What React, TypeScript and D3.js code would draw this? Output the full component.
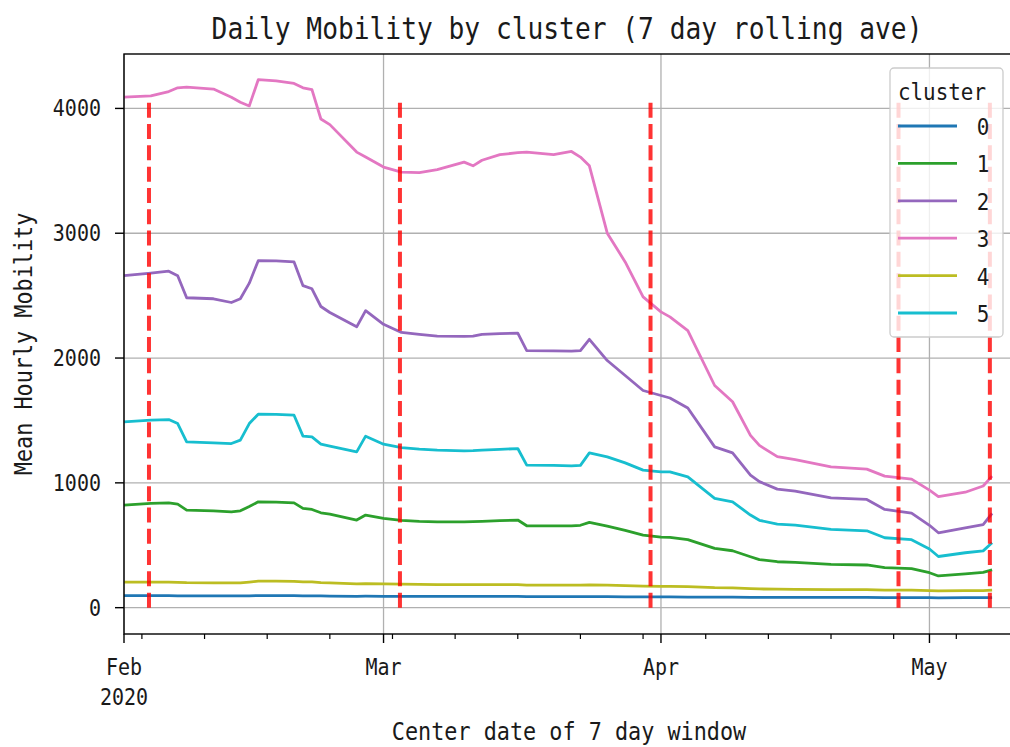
import { useEffect, useRef } from 'react';
import * as d3 from 'd3';

const dates = [
  '2020-02-01', '2020-02-04', '2020-02-06', '2020-02-07', '2020-02-08', '2020-02-11', '2020-02-13', '2020-02-14', '2020-02-15', '2020-02-16',
  '2020-02-18', '2020-02-20', '2020-02-21', '2020-02-22', '2020-02-23', '2020-02-24', '2020-02-27', '2020-02-28', '2020-03-01', '2020-03-03',
  '2020-03-05', '2020-03-07', '2020-03-10', '2020-03-11', '2020-03-12', '2020-03-14', '2020-03-16', '2020-03-17', '2020-03-20', '2020-03-22',
  '2020-03-23', '2020-03-24', '2020-03-26', '2020-03-28', '2020-03-30', '2020-04-01', '2020-04-02', '2020-04-04', '2020-04-07', '2020-04-09',
  '2020-04-11', '2020-04-12', '2020-04-14', '2020-04-16', '2020-04-20', '2020-04-24', '2020-04-26', '2020-04-29', '2020-05-01', '2020-05-02',
  '2020-05-05', '2020-05-07', '2020-05-08',
];

const cluster0 = [
  96, 96, 96, 95, 94, 94, 94, 94, 95, 97, 97, 96, 95, 95, 94, 93, 91, 92, 91, 90,
  90, 90, 90, 90, 90, 90, 90, 88, 88, 88, 88, 89, 88, 87, 86, 86, 86, 85, 84, 84,
  83, 83, 82, 82, 82, 82, 81, 81, 80, 79, 80, 80, 81,
];
const cluster1 = [
  822, 835, 840, 830, 782, 775, 768, 776, 810, 848, 845, 840, 795, 787, 760, 750, 702, 742, 715, 700,
  692, 688, 688, 690, 692, 697, 702, 656, 656, 656, 660, 683, 654, 620, 582, 565, 563, 545, 475, 456,
  408, 385, 368, 363, 347, 342, 320, 312, 280, 254, 270, 282, 302,
];
const cluster2 = [
  2660, 2680, 2696, 2660, 2483, 2475, 2445, 2475, 2600, 2780, 2778, 2770, 2580, 2555, 2413, 2365, 2250, 2380, 2270, 2205,
  2190, 2176, 2173, 2175, 2190, 2195, 2200, 2060, 2058, 2056, 2060, 2150, 1980, 1860, 1740, 1700, 1680, 1600, 1288, 1240,
  1062, 1010, 950, 934, 880, 867, 787, 758, 660, 600, 640, 665, 755,
];
const cluster3 = [
  4090, 4100, 4135, 4165, 4170, 4155, 4090, 4050, 4020, 4230, 4220, 4200, 4165, 4150, 3915, 3870, 3650, 3610, 3530, 3490,
  3485, 3510, 3570, 3540, 3585, 3630, 3645, 3650, 3630, 3655, 3610, 3540, 3000, 2770, 2490, 2370, 2330, 2220, 1780, 1650,
  1380, 1300, 1210, 1187, 1128, 1110, 1054, 1030, 942, 890, 925, 975, 1054,
];
const cluster4 = [
  205, 205, 204, 203, 200, 199, 198, 199, 205, 212, 212, 211, 207, 206, 200, 198, 190, 193, 190, 188,
  186, 185, 185, 185, 185, 185, 185, 180, 180, 180, 180, 183, 180, 176, 172, 170, 170, 168, 160, 158,
  152, 150, 148, 147, 145, 144, 141, 140, 136, 135, 136, 137, 140,
];
const cluster5 = [
  1488, 1502, 1507, 1475, 1328, 1320, 1315, 1342, 1475, 1550, 1548, 1542, 1374, 1368, 1310, 1295, 1248, 1374, 1310, 1283,
  1270, 1262, 1256, 1258, 1262, 1268, 1275, 1142, 1140, 1136, 1140, 1240, 1208, 1160, 1102, 1088, 1088, 1048, 875, 848,
  742, 700, 670, 662, 627, 616, 560, 545, 470, 410, 440, 455, 520,
];

const clusterNames = ['0', '1', '2', '3', '4', '5'];
const clusterColors = ['#1f77b4', '#2ca02c', '#9467bd', '#e377c2', '#bcbd22', '#17becf'];
const windowMarks = ['2020-02-03T19:00Z', '2020-03-02T20:00Z', '2020-03-30T20:00Z', '2020-04-27T13:00Z', '2020-05-07T18:00Z'];
const windowTop = 4090;
const yTicks = [0, 1000, 2000, 3000, 4000];

const FONT = '"DejaVu Sans Mono", monospace';
const SQUEEZE = 0.89; // original font is a narrow gothic mono

export default function App() {
  const ref = useRef<SVGSVGElement>(null);

  useEffect(() => {
    const svg = d3.select(ref.current);
    svg.selectAll('*').remove();

    const W = 1010, H = 747;
    const left = 124, right = 1010, top = 54, bottom = 634;
    const parse = (s: string) => new Date(s + 'T00:00Z');

    const x = d3.scaleUtc().domain([parse('2020-02-01'), parse('2020-05-10')]).range([left, right]);
    const y = d3.scaleLinear().domain([-211, 4436]).range([bottom, top]);

    const text = (parent: d3.Selection<any, unknown, null, undefined>, tx: number, ty: number, s: string,
      size: number, anchor = 'middle', rot = 0) => {
      parent.append('g').attr('transform', `translate(${tx},${ty}) rotate(${rot}) scale(${SQUEEZE},1)`)
        .append('text').attr('text-anchor', anchor).attr('font-family', FONT)
        .attr('font-size', size).attr('fill', '#1a1a1a').text(s);
    };

    svg.append('rect').attr('width', W).attr('height', H).attr('fill', '#fff');

    // grid
    const majors = x.ticks(d3.utcMonth);
    svg.append('g').selectAll('line').data(majors).enter().append('line')
      .attr('x1', d => x(d)).attr('x2', d => x(d)).attr('y1', top).attr('y2', bottom)
      .attr('stroke', '#b0b0b0').attr('stroke-width', 1.3);
    svg.append('g').selectAll('line').data(yTicks).enter().append('line')
      .attr('x1', left).attr('x2', right + 2).attr('y1', d => y(d)).attr('y2', d => y(d))
      .attr('stroke', '#b0b0b0').attr('stroke-width', 1.3);

    // series
    const series = [cluster0, cluster1, cluster2, cluster3, cluster4, cluster5];
    type P = { d: Date; v: number };
    const line = d3.line<P>().x(p => x(p.d)).y(p => y(p.v));
    series.forEach((vals, i) => {
      const pts = dates.map((s, j) => ({ d: parse(s), v: vals[j] }));
      svg.append('path').datum(pts).attr('d', line)
        .attr('fill', 'none').attr('stroke', clusterColors[i]).attr('stroke-width', 2.8)
        .attr('stroke-linejoin', 'round');
    });

    // window markers
    svg.append('g').selectAll('line').data(windowMarks).enter().append('line')
      .attr('x1', d => x(new Date(d))).attr('x2', d => x(new Date(d)))
      .attr('y1', y(0)).attr('y2', y(windowTop))
      .attr('stroke', 'red').attr('stroke-opacity', 0.8).attr('stroke-width', 4)
      .attr('stroke-dasharray', '15,6.3');

    // frame
    svg.append('rect').attr('x', left).attr('y', top).attr('width', right + 4 - left).attr('height', bottom - top)
      .attr('fill', 'none').attr('stroke', '#000').attr('stroke-width', 1.4);

    // x ticks
    const minors = x.ticks(d3.utcMonday.every(1)!);
    svg.append('g').selectAll('line').data(minors).enter().append('line')
      .attr('x1', d => x(d)).attr('x2', d => x(d)).attr('y1', bottom).attr('y2', bottom + 5)
      .attr('stroke', '#000').attr('stroke-width', 1.2);
    svg.append('g').selectAll('line').data(majors).enter().append('line')
      .attr('x1', d => x(d)).attr('x2', d => x(d)).attr('y1', bottom).attr('y2', bottom + 9)
      .attr('stroke', '#000').attr('stroke-width', 1.4);
    const fmt = d3.utcFormat('%b');
    majors.forEach((d, i) => {
      text(svg, x(d), 675, fmt(d), 22.5);
      if (i === 0) text(svg, x(d), 705, d3.utcFormat('%Y')(d), 22.5);
    });

    // y ticks
    svg.append('g').selectAll('line').data(yTicks).enter().append('line')
      .attr('x1', left - 9).attr('x2', left).attr('y1', d => y(d)).attr('y2', d => y(d))
      .attr('stroke', '#000').attr('stroke-width', 1.4);
    yTicks.forEach(t => text(svg, left - 23, y(t) + 8, String(t), 22.5, 'end'));

    // labels
    text(svg, 567, 39, 'Daily Mobility by cluster (7 day rolling ave)', 29.5);
    text(svg, 569, 740, 'Center date of 7 day window', 24.5);
    text(svg, 32, (top + bottom) / 2, 'Mean Hourly Mobility', 24.5, 'middle', -90);

    // legend
    const lg = svg.append('g');
    lg.append('rect').attr('x', 890).attr('y', 68).attr('width', 113).attr('height', 269).attr('rx', 4)
      .attr('fill', '#fff').attr('fill-opacity', 0.8).attr('stroke', '#cccccc').attr('stroke-width', 1.3);
    text(lg, 942, 100, 'cluster', 23.5);
    clusterNames.forEach((name, i) => {
      const cy = 126 + i * 37.4;
      lg.append('line').attr('x1', 898).attr('x2', 957).attr('y1', cy).attr('y2', cy)
        .attr('stroke', clusterColors[i]).attr('stroke-width', 2.8);
      text(lg, 983, cy + 9, name, 23.5);
    });
  }, []);

  return <svg ref={ref} width={1010} height={747} style={{ position: 'absolute', left: 0, top: 0 }} />;
}
